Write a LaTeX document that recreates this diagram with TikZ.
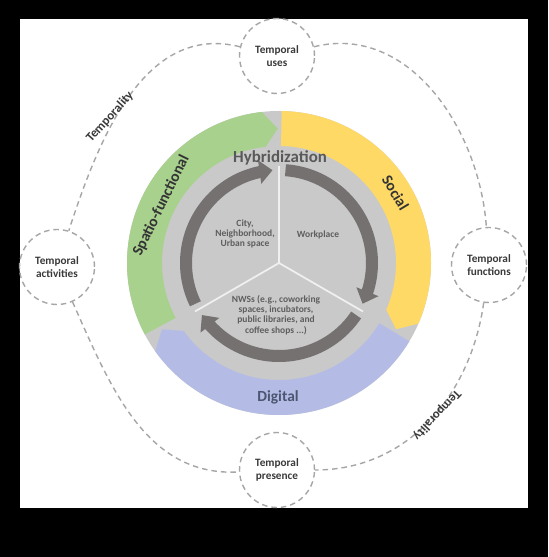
\documentclass[tikz,border=0pt]{standalone}
\usepackage{fontspec}
\setmainfont{Carlito}
\usepackage{tikz}
\usetikzlibrary{positioning, arrows.meta, bending}

\definecolor{segGreen}{HTML}{A9D18E}
\definecolor{segYellow}{HTML}{FFD966}
\definecolor{segBlue}{HTML}{B4BCE6}
\definecolor{discGray}{HTML}{C9C9C9}
\definecolor{arrowGray}{HTML}{767171}
\definecolor{dashGray}{HTML}{A6A6A6}
\definecolor{labelGray}{HTML}{3A3A3A}
\definecolor{innerGray}{HTML}{5E5E5E}
\definecolor{hybridGray}{HTML}{595959}
\definecolor{digitalText}{HTML}{4C5670}

\begin{document}
\begin{tikzpicture}[x=0.2mm, y=0.2mm,
  dashline/.style={draw=dashGray, line width=0.28mm, dash pattern=on 1.1mm off 0.8mm},
  tcircle/.style={circle, dashline, fill=white, minimum size=15mm, inner sep=0pt, align=center,
    font=\fontsize{6.4}{7.4}\selectfont\bfseries, text=labelGray},
  ringlabel/.style={font=\fontsize{8.8}{10}\selectfont\bfseries},
  innerlabel/.style={align=center, font=\fontsize{5.4}{5.9}\selectfont\bfseries, text=innerGray},
  templabel/.style={font=\fontsize{7.3}{8}\selectfont\bfseries, text=labelGray},
  yline/.style={draw=white!88!gray, line width=0.35mm},
  cyclearrow/.style={draw=arrowGray, line width=2.4mm, -{Triangle[length=2.6mm, width=4.6mm]}}
]
\useasboundingbox (-279,-294) rectangle (269,263);

% --- frame ---
\fill[black] (-279,-294) rectangle (269,263);
\fill[white] (-259,-245) rectangle (249,244);

% --- outer temporal circles ---
\node[tcircle] (uses) at (-2,207) {Temporal\\uses};
\node[tcircle] (activities) at (-222,-4) {Temporal\\activities};
\node[tcircle] (functions) at (210,-2) {Temporal\\functions};
\node[tcircle] (presence) at (-2,-207) {Temporal\\presence};

% dashed ring between them
\draw[dashline] (uses) to[out=166, in=72] (activities);
\draw[dashline] (uses) to[out=14, in=94] (functions);
\draw[dashline] (functions) to[out=262, in=0] (presence);
\draw[dashline] (activities) to[out=294, in=183] (presence);

\node[templabel, rotate=48] (temptop) at (-169,146) {Temporality};
\node[templabel, rotate=-133] (tempbottom) at (158,-152) {Temporality};

% --- main disc ---
\fill[discGray] (0,0) circle[radius=152];

% spatio-functional
\fill[segGreen] (208:152) arc[start angle=208, end angle=96.5, radius=152]
  -- (90.5:134.5) -- (96.5:117) arc[start angle=96.5, end angle=208, radius=117] -- cycle;
% social
\fill[segYellow] (89:152) arc[start angle=89, end angle=-23.5, radius=152]
  -- (-29.5:134.5) -- (-23.5:117) arc[start angle=-23.5, end angle=89, radius=117] -- cycle;
% digital
\fill[segBlue] (-31:152) arc[start angle=-31, end angle=-144.5, radius=152]
  -- (-150.5:134.5) -- (-144.5:117) arc[start angle=-144.5, end angle=-31, radius=117] -- cycle;

\node[ringlabel, rotate=64, text=black!80] (spatio) at (154:131) {Spatio-functional};
\node[ringlabel, rotate=-59, text=black!80] (social) at (31:136) {Social};
\node[ringlabel, text=digitalText] (digital) at (-1,-134) {Digital};

% --- inner sectors ---
\foreach \a in {90,210,-30}
  \draw[yline] (0,0) -- (\a:97);

\draw[cyclearrow] (206:93) arc[start angle=206, end angle=94, radius=93];
\draw[cyclearrow] (86:93) arc[start angle=86, end angle=-26, radius=93];
\draw[cyclearrow] (-34:93) arc[start angle=-34, end angle=-146, radius=93];

\node[font=\fontsize{9.6}{11}\selectfont\bfseries, text=hybridGray] (hybrid) at (1,105) {Hybridization};
\node[innerlabel] (city) at (-34,29) {City,\\Neighborhood,\\Urban space};
\node[innerlabel] (work) at (39,28) {Workplace};
\node[innerlabel] (nws) at (-3,-52) {NWSs (e.g., coworking\\spaces, incubators,\\public libraries, and\\coffee shops ...)};

\end{tikzpicture}
\end{document}
